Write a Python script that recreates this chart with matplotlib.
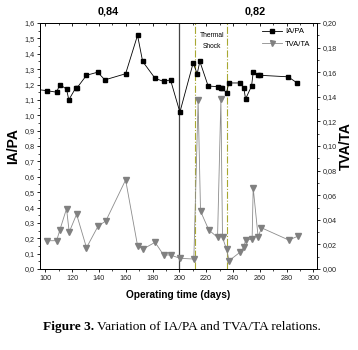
import matplotlib
matplotlib.use("Agg")
import matplotlib.pyplot as plt
from matplotlib.ticker import MultipleLocator, FuncFormatter
from matplotlib.lines import Line2D

plt.rcParams['font.family'] = ['Liberation Sans', 'DejaVu Sans']

# IA/PA (left axis)
ia_days = [92, 100.9, 108.4, 110.8, 115.8, 117.5, 122.8, 123.8, 130.7, 139.0, 144.4,
           159.9, 168.8, 172.6, 181.9, 188.2, 193.4, 200.4, 210.3, 213.3, 215.3,
           221.5, 228.5, 231.0, 231.8, 235.2, 236.9, 245.1, 248.1, 249.4, 253.9,
           255.1, 258.5, 260.0, 281.2, 287.9]
ia_vals = [1.17, 1.16, 1.15, 1.20, 1.17, 1.10, 1.18, 1.18, 1.26, 1.28, 1.23,
           1.27, 1.52, 1.35, 1.24, 1.22, 1.23, 1.02, 1.34, 1.27, 1.35,
           1.19, 1.186, 1.18, 1.175, 1.147, 1.21, 1.21, 1.18, 1.106, 1.19,
           1.28, 1.26, 1.26, 1.25, 1.21]

# TVA/TA (right axis)
tva_days = [100.9, 108.4, 110.8, 115.8, 117.8, 123.3, 130.7, 139.4, 145.1, 159.9,
            168.8, 173.0, 181.9, 188.2, 193.4, 200.4, 210.8, 214.0, 215.8, 222.0,
            228.5, 231.0, 232.2, 235.2, 237.2, 245.1, 248.1, 249.4, 254.3, 255.1,
            258.8, 261.3, 281.7, 288.7]
tva_vals = [0.023, 0.023, 0.0317, 0.049, 0.030, 0.0445, 0.0173, 0.035, 0.039, 0.0724,
            0.019, 0.0163, 0.0217, 0.0114, 0.0114, 0.0087, 0.0081, 0.137, 0.047, 0.0317,
            0.0257, 0.138, 0.0257, 0.016, 0.0068, 0.0135, 0.0176, 0.0235, 0.0243, 0.066,
            0.026, 0.0335, 0.0235, 0.0268]

vline_day = 200
shock_days = [211.6, 235.2]
phase_labels = ["0,84", "0,82"]

W, H = 358, 350
fig = plt.figure(figsize=(W / 100, H / 100), dpi=100)
L, R, T, B = 40, 316.7, 23, 269
ax = fig.add_axes([L / W, 1 - B / H, (R - L) / W, (B - T) / H])
ax2 = ax.twinx()

ax.set_xlim(96, 302.5)
ax.set_ylim(0, 1.6)
ax2.set_ylim(0, 0.2)

ax.axvline(vline_day, color='#444444', lw=0.9, zorder=1)
for d in shock_days:
    ax.axvline(d, color='#a8a832', lw=0.8, ls='-.', zorder=1)

ax.plot(ia_days, ia_vals, color='black', lw=0.6, marker='s', ms=3.3,
        mfc='black', mec='black', zorder=3, clip_on=True)
ax2.plot(tva_days, tva_vals, color='#8c8c8c', lw=0.6, marker='v', ms=3.8,
         mfc='#808080', mec='#808080', zorder=3)

fmt1 = FuncFormatter(lambda v, p: f"{v:.1f}".replace('.', ','))
fmt2 = FuncFormatter(lambda v, p: f"{v:.2f}".replace('.', ','))
ax.yaxis.set_major_locator(MultipleLocator(0.1))
ax.yaxis.set_minor_locator(MultipleLocator(0.05))
ax.yaxis.set_major_formatter(fmt1)
ax2.yaxis.set_major_locator(MultipleLocator(0.02))
ax2.yaxis.set_minor_locator(MultipleLocator(0.01))
ax2.yaxis.set_major_formatter(fmt2)
ax.xaxis.set_major_locator(MultipleLocator(20))
ax.xaxis.set_minor_locator(MultipleLocator(10))

for a in (ax, ax2):
    a.tick_params(which='major', length=2.5, width=0.6, labelsize=5.2, pad=1.5,
                  direction='out', colors='black', labelcolor='#222222')
    a.tick_params(which='minor', length=1.5, width=0.5, direction='out')
    for s in a.spines.values():
        s.set_linewidth(0.7)

sec = ax.secondary_xaxis('top')
sec.xaxis.set_major_locator(MultipleLocator(20))
sec.xaxis.set_minor_locator(MultipleLocator(10))
sec.tick_params(which='major', direction='in', length=2.5, width=0.6, labeltop=False)
sec.tick_params(which='minor', direction='in', length=1.5, width=0.5)
sec.spines['top'].set_linewidth(0.7)

ax.set_ylabel("IA/PA", fontsize=10, fontweight='bold', labelpad=3)
ax2.set_ylabel("TVA/TA", fontsize=10, fontweight='bold', labelpad=2)
ax.set_xlabel("Operating time (days)", fontsize=7.3, fontweight='bold', labelpad=6,
              family=['Liberation Sans Narrow', 'Liberation Sans'])

ax.text(224.5, 1.52, "Thermal", fontsize=4.8, ha='center', va='center',
        family=['Liberation Sans Narrow', 'Liberation Sans'])
ax.text(224.5, 1.445, "Shock", fontsize=4.8, ha='center', va='center',
        family=['Liberation Sans Narrow', 'Liberation Sans'])

fig.text(108 / W, 1 - 12 / H, phase_labels[0], fontsize=7.8, fontweight='bold',
         ha='center', va='center')
fig.text(255 / W, 1 - 12 / H, phase_labels[1], fontsize=7.8, fontweight='bold',
         ha='center', va='center')

handles = [Line2D([], [], color='black', lw=0.6, marker='s', ms=3.0),
           Line2D([], [], color='#8c8c8c', lw=0.6, marker='v', ms=3.6,
                  mfc='#808080', mec='#808080')]
ax2.legend(handles, ["IA/PA", "TVA/TA"], loc='upper left',
           bbox_to_anchor=(262 / W, 1 - 28 / H), bbox_transform=fig.transFigure,
           frameon=False, handlelength=2.6, handletextpad=0.4,
           labelspacing=0.7, borderpad=0, borderaxespad=0,
           prop={'family': ['Liberation Sans Narrow', 'Liberation Sans'], 'size': 5.5})

# caption
fig.canvas.draw()
rend = fig.canvas.get_renderer()
t1 = fig.text(43 / W, 1 - 327 / H, "Figure 3.", fontsize=9.6, fontweight='bold',
              family=['Liberation Serif'], ha='left', va='center')
bb = t1.get_window_extent(renderer=rend)
x2 = bb.x1 / fig.bbox.width + 3 / W
fig.text(x2, 1 - 327 / H, "Variation of IA/PA and TVA/TA relations.", fontsize=9.6,
         family=['Liberation Serif'], ha='left', va='center')

fig.savefig("out.png", dpi=100)
